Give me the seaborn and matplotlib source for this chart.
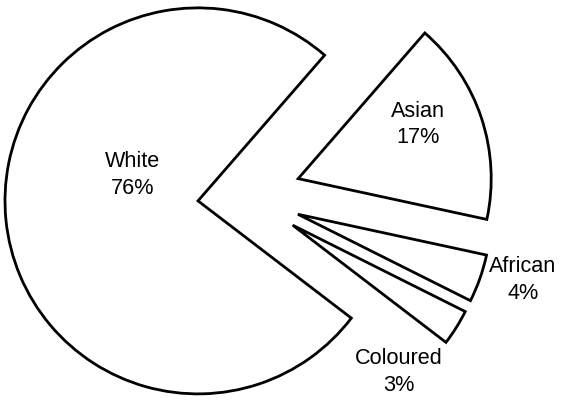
import matplotlib
matplotlib.use("Agg")
import matplotlib.pyplot as plt
import seaborn as sns

# Population share by group
groups = ["White", "Asian", "African", "Coloured"]
shares = [76, 17, 4, 3]

# How far each wedge is pulled out from the centre (fraction of radius)
explode = [0.25, 0.285, 0.285, 0.285]

# Label anchor points in axis data units
label_xy = [(-0.59, 0.11), (0.89, 0.37), (1.435, -0.435), (0.79, -0.912)]

sns.set_theme(style="white")
plt.rcParams["font.family"] = ["Liberation Sans", "DejaVu Sans"]

fig = plt.figure(figsize=(5.66, 4.0), dpi=100)
ax = fig.add_axes([0, 0, 1, 1])

wedges, _ = ax.pie(
    shares,
    explode=explode,
    startangle=322.6,
    counterclock=False,
    colors=["white"] * len(shares),
    wedgeprops=dict(edgecolor="black", linewidth=2.0, joinstyle="miter"),
    radius=1.0,
)

for name, val, (x, y) in zip(groups, shares, label_xy):
    ax.text(x, y, f"{name}\n{val}%", ha="center", va="center",
            fontsize=15.6, color="black", linespacing=1.35)

ax.set_xlim(-1.2746, 1.658)
ax.set_ylim(-1.057, 1.0155)
ax.set_aspect("auto")
ax.axis("off")

fig.savefig("out.png", dpi=100, facecolor="white")
